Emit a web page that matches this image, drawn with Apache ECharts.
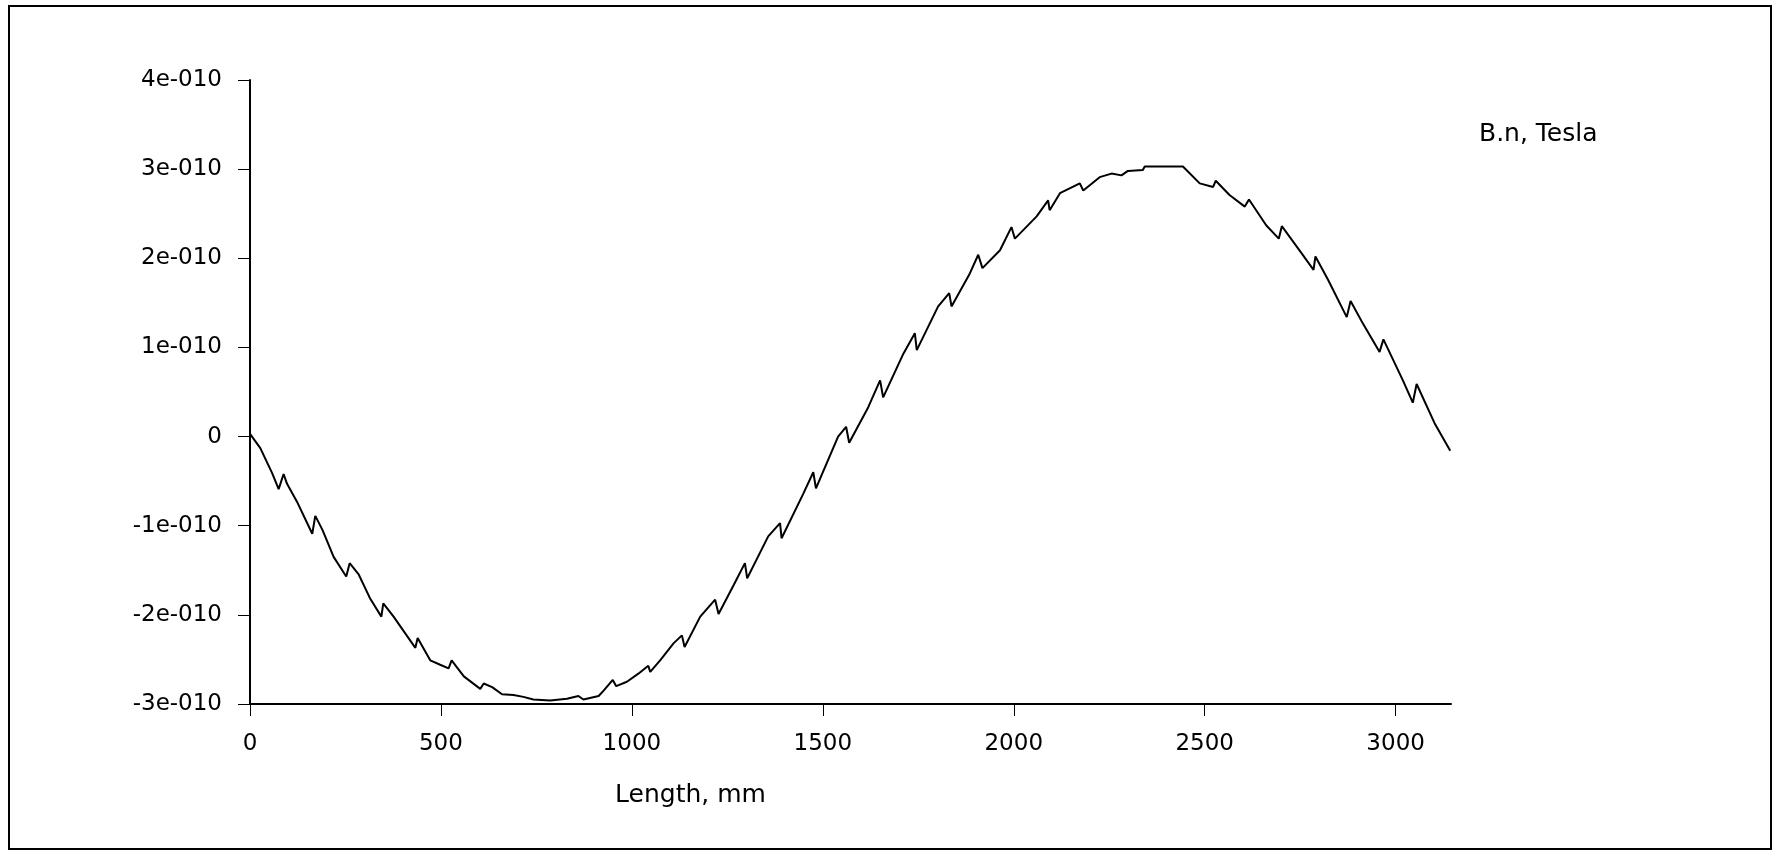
<!DOCTYPE html>
<html>
<head>
<meta charset="utf-8">
<script src="https://cdn.jsdelivr.net/npm/echarts@6/dist/echarts.min.js"></script>
<style>
html,body{margin:0;padding:0;background:#fff;}
#chart{width:1779px;height:858px;}
</style>
</head>
<body>
<div id="chart"></div>
<script>
// Length along the line, mm
const lengthMm = [0,27,58,75,88,97,123,163,171,190,219,252,261,285,315,344,349,376,407,433,439,472,498,520,528,560,603,612,634,660,690,716,742,786,830,860,873,913,926,950,959,987,1017,1043,1048,1074,1109,1131,1138,1179,1218,1227,1266,1296,1302,1357,1388,1392,1449,1475,1482,1540,1561,1569,1619,1650,1658,1711,1741,1746,1802,1831,1837,1885,1907,1918,1964,1994,2003,2060,2090,2094,2121,2173,2182,2225,2256,2282,2299,2338,2343,2443,2487,2522,2529,2565,2605,2616,2661,2694,2702,2753,2785,2790,2823,2872,2882,2914,2958,2968,3019,3045,3055,3102,3143];
// B.n in units of 1e-10 Tesla
const bnE10 = [0.03,-0.13,-0.41,-0.59,-0.42,-0.53,-0.73,-1.09,-0.89,-1.05,-1.35,-1.57,-1.42,-1.55,-1.82,-2.02,-1.87,-2.02,-2.21,-2.37,-2.26,-2.51,-2.56,-2.60,-2.51,-2.69,-2.83,-2.77,-2.81,-2.89,-2.90,-2.92,-2.95,-2.96,-2.94,-2.91,-2.95,-2.91,-2.85,-2.73,-2.80,-2.75,-2.66,-2.57,-2.64,-2.51,-2.32,-2.23,-2.36,-2.02,-1.83,-1.99,-1.67,-1.42,-1.59,-1.12,-0.97,-1.14,-0.64,-0.40,-0.58,0.00,0.11,-0.07,0.33,0.63,0.44,0.93,1.16,0.97,1.46,1.61,1.46,1.83,2.04,1.89,2.09,2.35,2.22,2.47,2.65,2.54,2.73,2.84,2.76,2.91,2.95,2.93,2.98,2.99,3.03,3.03,2.84,2.80,2.87,2.71,2.58,2.66,2.37,2.22,2.36,2.06,1.87,2.02,1.76,1.34,1.52,1.27,0.95,1.09,0.63,0.38,0.59,0.15,-0.16];
const xTicks = [0,500,1000,1500,2000,2500,3000];
const yTicks = [-3,-2,-1,0,1,2,3,4];
const seriesName = 'B.n, Tesla';
const xAxisTitle = 'Length, mm';

const font = 'DejaVu Sans';
const chart = echarts.init(document.getElementById('chart'));
const data = lengthMm.map((x, i) => [x, bnE10[i]]);

chart.setOption({
  animation: false,
  backgroundColor: '#ffffff',
  grid: {left: 250, top: 80, right: 328, bottom: 154, containLabel: false},
  legend: {
    show: true,
    data: [seriesName],
    left: 1468, top: 117,
    itemWidth: 0, itemHeight: 0, itemGap: 0,
    textStyle: {fontFamily: font, fontSize: 25, color: '#000'}
  },
  xAxis: {
    type: 'value', min: 0, max: 3145,
    name: xAxisTitle, nameLocation: 'middle', nameGap: 79,
    nameTextStyle: {fontFamily: font, fontSize: 25, color: '#000', align: 'center', padding: [0, 320, 0, 0]},
    axisLine: {show: true, onZero: false, lineStyle: {color: '#000', width: 2}},
    axisTick: {show: true, inside: false, length: 12, customValues: xTicks, lineStyle: {color: '#000', width: 1}},
    axisLabel: {customValues: xTicks, margin: 29, fontFamily: font, fontSize: 23, color: '#000',
      formatter: v => String(v)},
    splitLine: {show: false}
  },
  yAxis: {
    type: 'value', min: yTicks[0], max: yTicks[yTicks.length - 1], interval: 1,
    axisLine: {show: true, lineStyle: {color: '#000', width: 2}},
    axisTick: {show: true, inside: false, length: 12, lineStyle: {color: '#000', width: 1}},
    axisLabel: {margin: 28, fontFamily: font, fontSize: 23, color: '#000',
      formatter: v => v === 0 ? '0' : v + 'e-010'},
    splitLine: {show: false}
  },
  graphic: [{
    type: 'rect', silent: true,
    shape: {x: 9, y: 6, width: 1762, height: 843},
    style: {fill: 'none', stroke: '#000', lineWidth: 2}
  }],
  series: [{
    name: seriesName, type: 'line', data: data,
    symbol: 'none', smooth: false,
    lineStyle: {color: '#000', width: 2},
    itemStyle: {color: '#000'}
  }]
});
</script>
</body>
</html>
